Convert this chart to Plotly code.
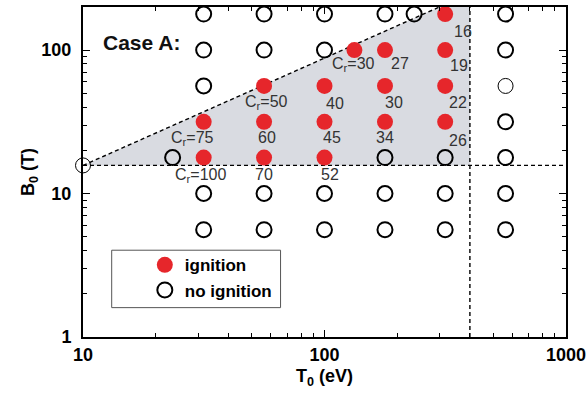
import math
import plotly.graph_objects as go

# ---------------- data ----------------
# ignition points (T0 in eV, B0 in T) and their C_r values
T_ign = [31.6, 31.6, 56.2, 56.2, 56.2, 100, 100, 100, 133, 178, 178, 178, 316, 316, 316, 316]
B_ign = [31.6, 17.8, 56.2, 31.6, 17.8, 56.2, 31.6, 17.8, 100, 100, 56.2, 31.6, 178, 100, 56.2, 31.6]
Cr_ign = ["C<sub>r</sub>=75", "C<sub>r</sub>=100", "C<sub>r</sub>=50", "60", "70", "40", "45", "52",
          "C<sub>r</sub>=30", "27", "30", "34", "16", "19", "22", "26"]

# no-ignition points
T_no = [31.6, 31.6, 31.6, 31.6, 31.6,
        56.2, 56.2, 56.2, 56.2,
        100, 100, 100, 100,
        178, 178, 178, 178,
        235,
        316, 316, 316,
        562, 562, 562, 562, 562, 562,
        23.5]
B_no = [178, 100, 56.2, 10, 5.6,
        178, 100, 10, 5.6,
        178, 100, 10, 5.6,
        178, 17.8, 10, 5.6,
        178,
        17.8, 10, 5.6,
        178, 100, 31.6, 17.8, 10, 5.6,
        17.8]
# thin no-ignition circles
T_no_thin = [562, 10]
B_no_thin = [56.2, 15.7]

# boundaries of the ignition region
T_diag = [10, 300]
B_diag = [15.7, 200]
T_region = [10, 300, 400, 400, 10]
B_region = [15.7, 200, 200, 15.7, 15.7]
T_hline = [10, 1000]
B_hline = [15.7, 15.7]
T_vline = [400, 400]
B_vline = [1, 200]

x_ticks = [10, 100, 1000]
y_ticks = [1, 10, 100]

# label offsets (screen px) relative to the associated point
label_dx = [-11, -3, 2, 3, 0, 10, 7, 5, -1, 15, 9, 0, 18, 14, 13, 13]
label_dy = [17, 18, 17, 16, 17, 18, 16, 17, 14, 13, 17, 16, 17, 15, 17, 19]

FONT = "Liberation Sans"
RED = "#e6262b"

fig = go.Figure()

fig.add_trace(go.Scatter(x=T_region, y=B_region, mode="lines", fill="toself",
                         fillcolor="#d9dbe1", line=dict(width=0), showlegend=False,
                         hoverinfo="skip"))
dash = dict(color="black", width=1.4, dash="4px,3px")
fig.add_trace(go.Scatter(x=T_diag, y=B_diag, mode="lines", line=dash, showlegend=False))
fig.add_trace(go.Scatter(x=T_hline, y=B_hline, mode="lines", line=dash, showlegend=False))
fig.add_trace(go.Scatter(x=T_vline, y=B_vline, mode="lines", line=dash, showlegend=False))

fig.add_trace(go.Scatter(x=T_ign, y=B_ign, mode="markers", name="ignition",
                         marker=dict(symbol="circle", size=16, color=RED,
                                     line=dict(width=0)), cliponaxis=False))
fig.add_trace(go.Scatter(x=T_no, y=B_no, mode="markers", name="no ignition",
                         marker=dict(symbol="circle-open", size=15, color="black",
                                     line=dict(width=2, color="black")), cliponaxis=False))
fig.add_trace(go.Scatter(x=T_no_thin, y=B_no_thin, mode="markers", showlegend=False,
                         marker=dict(symbol="circle-open", size=15, color="black",
                                     line=dict(width=1, color="black")), cliponaxis=False))

annotations = []
for t, b, txt, dx, dy in zip(T_ign, B_ign, Cr_ign, label_dx, label_dy):
    annotations.append(dict(x=math.log10(t), y=math.log10(b), xref="x", yref="y",
                            text=txt, showarrow=False, xshift=dx, yshift=-dy,
                            font=dict(family=FONT, size=16, color="#333333"),
                            xanchor="center", yanchor="middle"))
annotations.append(dict(x=0.0373, y=0.893, xref="paper", yref="paper", text="<b>Case A:</b>",
                        showarrow=False, xanchor="left", yanchor="middle",
                        font=dict(family=FONT, size=21, color="#111111")))
fig.update_layout(annotations=annotations)

# legend frame
fig.add_shape(type="rect", xref="paper", yref="paper", x0=0.0594, x1=0.409, y0=0.089, y1=0.263,
              line=dict(color="#555555", width=1), fillcolor="white", layer="below")

axis_common = dict(
    type="log", showline=True, linecolor="black", linewidth=2, mirror="ticks",
    ticks="inside", ticklen=7, tickwidth=1.3, tickcolor="black", showgrid=False, zeroline=False,
    automargin=False, ticklabeloverflow="allow",
    tickfont=dict(family=FONT, size=18, color="black", weight="bold"),
    minor=dict(ticks="inside", ticklen=4, tickwidth=1, tickcolor="black", dtick="D1", showgrid=False),
)
fig.update_xaxes(**axis_common, range=[1, 3], tickvals=x_ticks, ticktext=[str(v) for v in x_ticks],
                 title=dict(text="T<sub>0</sub> (eV)", font=dict(family=FONT, size=18, color="black", weight="bold"), standoff=6))
fig.update_yaxes(**axis_common, range=[0, 2.3], tickvals=y_ticks, ticktext=[str(v) for v in y_ticks],
                 ticklabelstandoff=6,
                 title=dict(text="B<sub>0</sub> (T)", font=dict(family=FONT, size=18, color="black", weight="bold"), standoff=2))

fig.update_layout(
    width=586, height=393,
    margin=dict(l=83, r=20, t=7, b=56),
    paper_bgcolor="white", plot_bgcolor="white",
    font=dict(family=FONT),
    legend=dict(x=0.128, y=0.272, xanchor="left", yanchor="top", bgcolor="rgba(0,0,0,0)",
                borderwidth=0, font=dict(family=FONT, size=17, color="black", weight="bold"),
                itemsizing="trace"),
)

fig.write_html("out.html", config={"displayModeBar": False},
               post_script="document.body.style.margin='0px';")
